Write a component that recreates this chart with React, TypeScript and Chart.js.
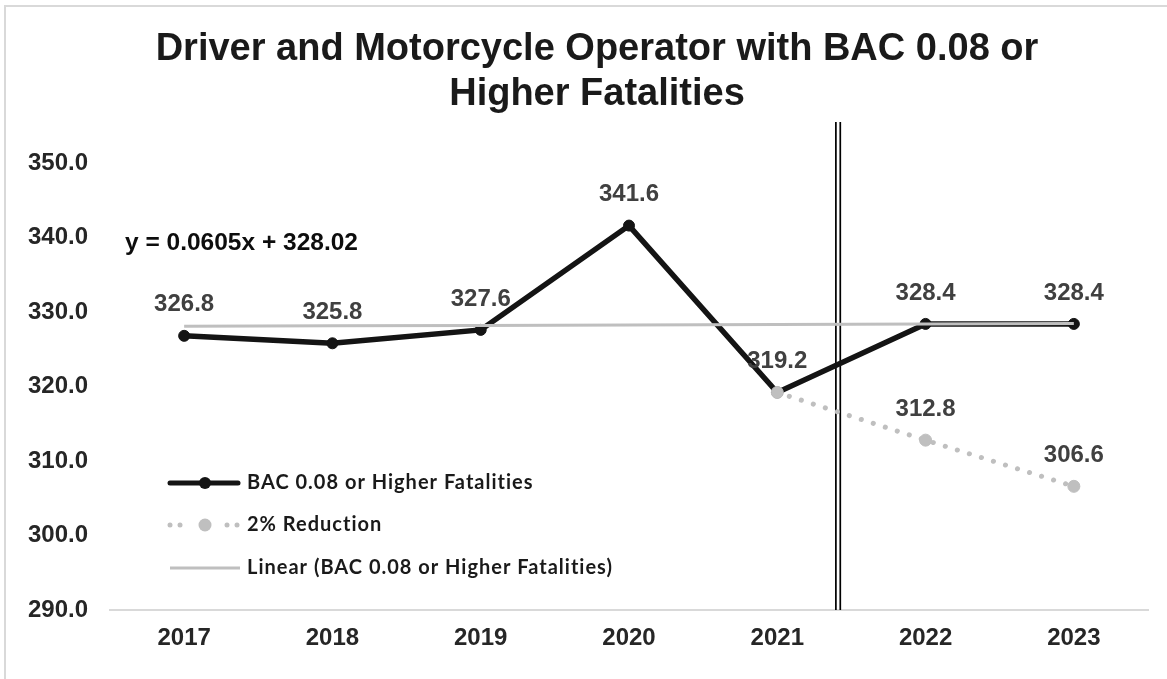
import React, { useEffect, useRef } from "react";
import { Chart, registerables } from "chart.js";

Chart.register(...registerables);

// ---- data ----
const years = ["2017", "2018", "2019", "2020", "2021", "2022", "2023"];
const bacFatalities = [326.8, 325.8, 327.6, 341.6, 319.2, 328.4, 328.4];
const reductionTarget = [null, null, null, null, 319.2, 312.8, 306.6];
const linearTrend = [328.08, 328.14, 328.2, 328.26, 328.32, 328.38, 328.44];
const mainLabelIdx = [0, 1, 2, 3, 4, 5, 6];
const reductionLabelIdx = [5, 6];
const seriesNames = [
  "BAC 0.08 or Higher Fatalities",
  "2% Reduction",
  "Linear (BAC 0.08 or Higher Fatalities)",
];
const titleLines = ["Driver and Motorcycle Operator with BAC 0.08 or", "Higher Fatalities"];
const equationText = "y = 0.0605x + 328.02";
const yMin = 290;
const yMax = 350;
const yStep = 10;
const dividerAt = 4.41; // category index position of the double divider line

const ARIAL = "'Liberation Sans', Arial, sans-serif";
const MAIN_COLOR = "#141414";
const GRAY = "#bfbfbf";

const decoPlugin = {
  id: "deco",
  beforeDraw(chart: any) {
    const { ctx, width, height } = chart;
    ctx.save();
    ctx.fillStyle = "#ffffff";
    ctx.fillRect(0, 0, width, height);
    ctx.strokeStyle = "#d9d9d9";
    ctx.lineWidth = 2;
    ctx.beginPath();
    ctx.moveTo(5, height);
    ctx.lineTo(5, 6);
    ctx.lineTo(width, 6);
    ctx.stroke();
    ctx.fillStyle = "#1a1a1a";
    ctx.font = `bold 38px ${ARIAL}`;
    ctx.textAlign = "center";
    ctx.textBaseline = "middle";
    ctx.fillText(titleLines[0], 597, 50);
    ctx.fillText(titleLines[1], 597, 95);
    ctx.restore();
  },
  beforeDatasetsDraw(chart: any) {
    const { ctx, chartArea } = chart;
    const xs = chart.scales.x;
    const x = xs.getPixelForValue(dividerAt);
    ctx.save();
    ctx.strokeStyle = "#000000";
    ctx.lineWidth = 1.7;
    ctx.beginPath();
    ctx.moveTo(x - 2.2, 122);
    ctx.lineTo(x - 2.2, chartArea.bottom);
    ctx.moveTo(x + 2.2, 122);
    ctx.lineTo(x + 2.2, chartArea.bottom);
    ctx.stroke();
    ctx.restore();
  },
  afterDatasetsDraw(chart: any) {
    const { ctx, chartArea } = chart;
    const xs = chart.scales.x;
    const ys = chart.scales.y;
    ctx.save();
    // data labels
    ctx.font = `bold 24px ${ARIAL}`;
    ctx.fillStyle = "#404040";
    ctx.textAlign = "center";
    ctx.textBaseline = "middle";
    mainLabelIdx.forEach((i) => {
      const v = bacFatalities[i];
      ctx.fillText(v.toFixed(1), xs.getPixelForValue(i), ys.getPixelForValue(v) - 31);
    });
    reductionLabelIdx.forEach((i) => {
      const v = reductionTarget[i] as number;
      ctx.fillText(v.toFixed(1), xs.getPixelForValue(i), ys.getPixelForValue(v) - 31);
    });
    // trendline equation
    ctx.fillStyle = "#0d0d0d";
    ctx.textAlign = "left";
    ctx.font = `bold 24.5px ${ARIAL}`;
    ctx.fillText(equationText, chartArea.left + 15, 243);

    // legend
    const lx0 = 168;
    const lx1 = 240;
    const lxm = 205;
    const rows = [483, 525, 568];
    // row 1: main
    ctx.strokeStyle = MAIN_COLOR;
    ctx.lineWidth = 5;
    ctx.lineCap = "round";
    ctx.beginPath();
    ctx.moveTo(lx0 + 2, rows[0]);
    ctx.lineTo(lx1 - 2, rows[0]);
    ctx.stroke();
    ctx.fillStyle = MAIN_COLOR;
    ctx.beginPath();
    ctx.arc(lxm, rows[0], 6, 0, Math.PI * 2);
    ctx.fill();
    // row 2: reduction
    ctx.fillStyle = GRAY;
    [170, 180, 227, 237].forEach((dx) => {
      ctx.beginPath();
      ctx.arc(dx, rows[1], 2.5, 0, Math.PI * 2);
      ctx.fill();
    });
    ctx.beginPath();
    ctx.arc(lxm, rows[1], 6.5, 0, Math.PI * 2);
    ctx.fill();
    // row 3: trend
    ctx.strokeStyle = GRAY;
    ctx.lineWidth = 3;
    ctx.lineCap = "butt";
    ctx.beginPath();
    ctx.moveTo(lx0 + 2, rows[2]);
    ctx.lineTo(lx1, rows[2]);
    ctx.stroke();
    ctx.fillStyle = "#1a1a1a";
    ctx.font = `bold 20px Lato, 'Open Sans', sans-serif`;
    (ctx as any).letterSpacing = "1px";
    ctx.textAlign = "left";
    seriesNames.forEach((n, k) => ctx.fillText(n, 247, rows[k]));
    (ctx as any).letterSpacing = "0px";
    ctx.restore();
  },
};

export default function App() {
  const ref = useRef<HTMLCanvasElement | null>(null);
  useEffect(() => {
    if (!ref.current) return;
    const chart = new Chart(ref.current, {
      type: "line",
      data: {
        labels: years,
        datasets: [
          {
            label: seriesNames[2],
            data: linearTrend,
            borderColor: GRAY,
            borderWidth: 3,
            pointRadius: 0,
            order: 0,
          },
          {
            label: seriesNames[1],
            data: reductionTarget,
            borderColor: GRAY,
            backgroundColor: GRAY,
            borderWidth: 5,
            borderDash: [0.1, 12.5],
            borderCapStyle: "round",
            pointRadius: 6,
            pointBorderWidth: 1,
            pointBackgroundColor: GRAY,
            pointBorderColor: GRAY,
            spanGaps: false,
            order: 1,
          },
          {
            label: seriesNames[0],
            data: bacFatalities,
            borderColor: MAIN_COLOR,
            backgroundColor: MAIN_COLOR,
            borderWidth: 5.5,
            pointRadius: 5.5,
            pointBorderWidth: 1,
            pointBackgroundColor: MAIN_COLOR,
            pointBorderColor: MAIN_COLOR,
            order: 2,
          },
        ],
      },
      options: {
        animation: false,
        responsive: false,
        devicePixelRatio: 1,
        layout: { padding: { top: 163, left: 0, right: 19, bottom: 0 } },
        plugins: {
          legend: { display: false },
          title: { display: false },
          tooltip: { enabled: false },
        },
        scales: {
          x: {
            offset: true,
            grid: { display: false, drawTicks: false },
            border: { display: true, color: "#d9d9d9", width: 2 },
            ticks: {
              color: "#262626",
              font: { family: ARIAL, size: 24, weight: "bold" },
              padding: 14,
              maxRotation: 0,
            },
            afterFit: (s: any) => {
              s.height = 69;
            },
          },
          y: {
            min: yMin,
            max: yMax,
            grid: { display: false, drawTicks: false },
            border: { display: false },
            ticks: {
              stepSize: yStep,
              color: "#262626",
              font: { family: ARIAL, size: 24, weight: "bold" },
              padding: 22,
              callback: (v: any) => Number(v).toFixed(1),
            },
            afterFit: (s: any) => {
              s.width = 110;
            },
          },
        },
      },
      plugins: [decoPlugin],
    } as any);
    return () => chart.destroy();
  }, []);
  return (
    <div style={{ position: "fixed", left: 0, top: 0, width: 1167, height: 679, background: "#fff" }}>
      <canvas ref={ref} width={1167} height={679} style={{ display: "block" }} />
    </div>
  );
}
